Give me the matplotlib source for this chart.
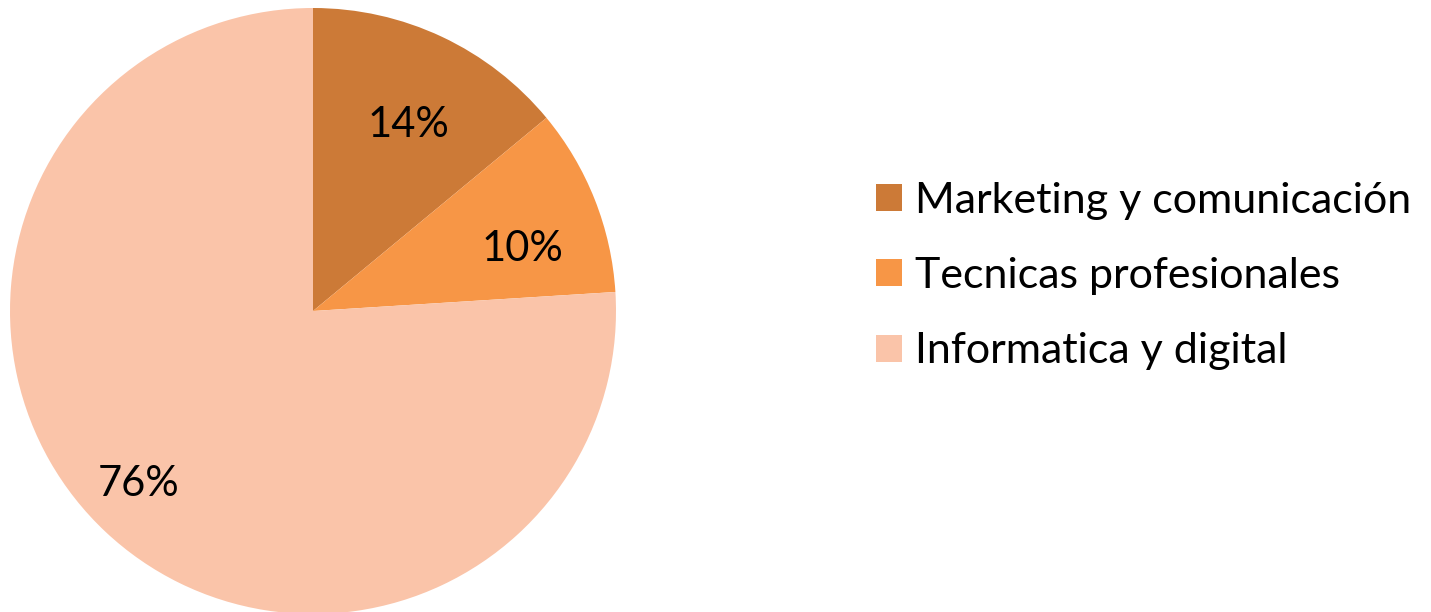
import matplotlib
matplotlib.use("Agg")
import matplotlib.pyplot as plt
import numpy as np

categories = ["Marketing y comunicación", "Tecnicas profesionales", "Informatica y digital"]
shares = [14, 10, 76]
colors = ["#CC7A37", "#F79646", "#FAC4A9"]

plt.rcParams["font.family"] = ["Lato", "DejaVu Sans"]

W, H = 1431, 612
fig = plt.figure(figsize=(W / 100, H / 100), dpi=100)

# pie axes placed in pixels: center (313, 311), radius 303
cx, cy, r = 313, 311, 303
ax = fig.add_axes([(cx - r) / W, (H - cy - r) / H, 2 * r / W, 2 * r / H])
wedges, texts, autotexts = ax.pie(
    shares,
    colors=colors,
    startangle=90,
    counterclock=False,
    radius=1,
    autopct="%d%%",
    pctdistance=0.72,
    wedgeprops={"linewidth": 0},
    textprops={"fontsize": 30, "color": "black"},
)

# excel "best fit" label spots: distance from centre and angle nudge (deg)
label_dist = [0.69, 0.72, 0.81]
label_nudge = [-2, -5, -2]
for w, t, d, n in zip(wedges, autotexts, label_dist, label_nudge):
    ang = np.deg2rad((w.theta1 + w.theta2) / 2 + n)
    t.set_position((d * np.cos(ang), d * np.sin(ang)))

ax.set_xlim(-1, 1)
ax.set_ylim(-1, 1)
ax.set_aspect("equal")
ax.axis("off")

fig.legend(
    wedges,
    categories,
    loc="center left",
    bbox_to_anchor=(859 / W, (H - 276) / H),
    frameon=False,
    fontsize=31,
    handlelength=0.6,
    handleheight=0.6,
    handletextpad=0.3,
    labelspacing=0.87,
    borderaxespad=0,
)

fig.savefig("out.png", dpi=100)
